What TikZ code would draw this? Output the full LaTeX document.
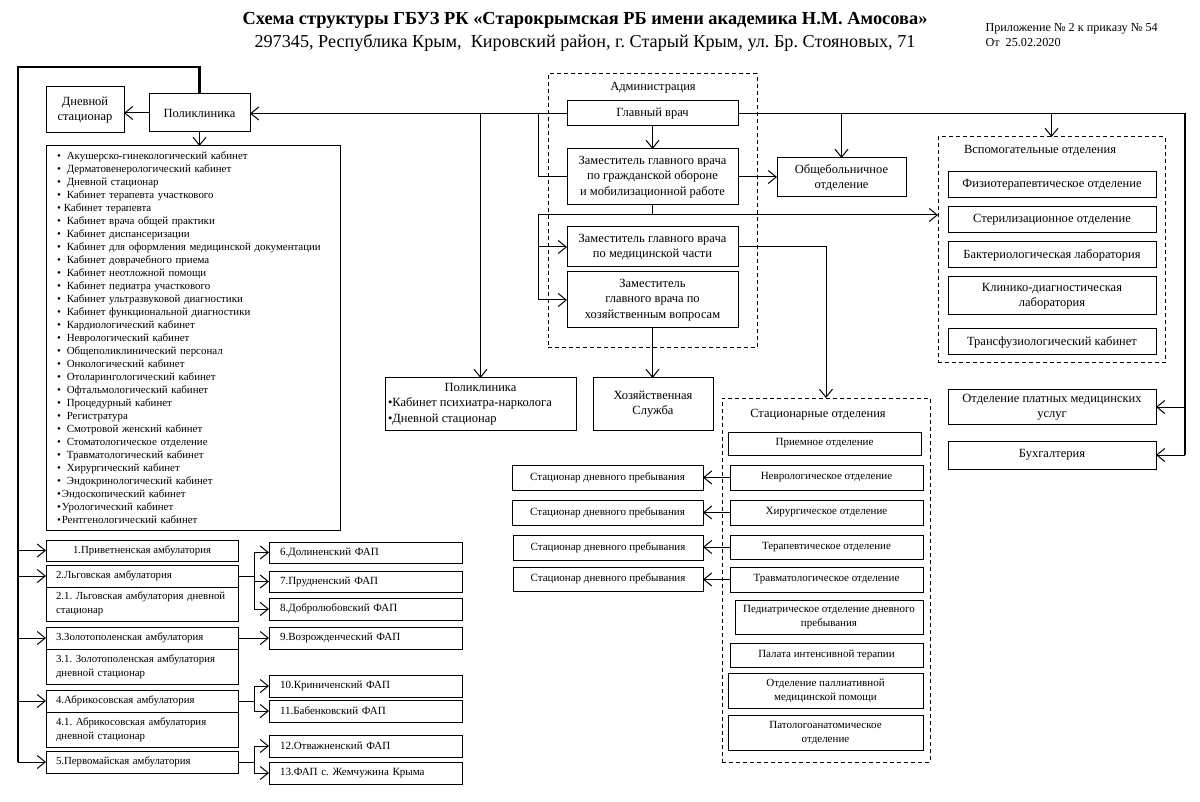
\documentclass[tikz,border=0pt]{standalone}
\usepackage{fontspec}
\setmainfont{Liberation Serif}
\usetikzlibrary{arrows.meta}
\newcommand\cabitem{\textbullet\hspace{6pt}}
\frenchspacing

\begin{document}
\begin{tikzpicture}[x=1pt, y=-1pt, line width=1pt,
    box/.style={draw, inner sep=1pt, outer sep=0pt, anchor=north west, align=center,
      font=\fontsize{12.5}{15.5}\selectfont},
    sbox/.style={box, font=\fontsize{11}{14}\selectfont},
    amb/.style={box, align=left, text width=172pt, inner xsep=10pt, font=\fontsize{10.8}{14}\selectfont},
    fap/.style={box, align=left, text width=171pt, inner xsep=11pt, font=\fontsize{11}{14}\selectfont},
    group/.style={draw, dash pattern=on 4pt off 3pt, anchor=north west, inner sep=0pt, outer sep=0pt},
    lbl/.style={font=\fontsize{12.5}{15.5}\selectfont},
    arr/.style={-{Straight Barb[length=8pt,width=13pt]}},
    trunk/.style={line width=2.5pt}]
	\useasboundingbox[fill=white] (0,0) rectangle (1200,802);
	\node[font=\fontsize{18.4}{20}\selectfont\bfseries] (title) at (585,20) {Схема структуры ГБУЗ РК «Старокрымская РБ имени академика Н.М. Амосова»};
	\node[font=\fontsize{18.2}{20}\selectfont] (addr) at (585,43) {297345, Республика Крым,\ \ Кировский район, г. Старый Крым, ул. Бр. Стояновых, 71};
	\node[anchor=north west, align=left, inner sep=0pt, font=\fontsize{12.2}{15}\selectfont] (order) at (985,23) {Приложение № 2 к приказу № 54\\От\ \ 25.02.2020};

	\node[box, minimum width=78pt, minimum height=46pt] (dayhosp) at (46,87) {Дневной\\стационар};
	\node[box, minimum width=101pt, minimum height=38pt] (poly) at (149,94) {Поликлиника};
	\node[box, minimum height=384pt, align=left, text width=272pt, inner xsep=11pt, font=\fontsize{10.9}{13}\selectfont] (cabs) at (46,146) {%
		\cabitem Акушерско-гинекологический кабинет\\
		\cabitem Дерматовенерологический кабинет\\
		\cabitem Дневной стационар\\
		\cabitem Кабинет терапевта участкового\\
		\textbullet\hspace{3pt}Кабинет терапевта\\
		\cabitem Кабинет врача общей практики\\
		\cabitem Кабинет диспансеризации\\
		\cabitem Кабинет для оформления медицинской документации\\
		\cabitem Кабинет доврачебного приема\\
		\cabitem Кабинет неотложной помощи\\
		\cabitem Кабинет педиатра участкового\\
		\cabitem Кабинет ультразвуковой диагностики\\
		\cabitem Кабинет функциональной диагностики\\
		\cabitem Кардиологический кабинет\\
		\cabitem Неврологический кабинет\\
		\cabitem Общеполиклинический персонал\\
		\cabitem Онкологический кабинет\\
		\cabitem Отоларингологический кабинет\\
		\cabitem Офтальмологический кабинет\\
		\cabitem Процедурный кабинет\\
		\cabitem Регистратура\\
		\cabitem Смотровой женский кабинет\\
		\cabitem Стоматологическое отделение\\
		\cabitem Травматологический кабинет\\
		\cabitem Хирургический кабинет\\
		\cabitem Эндокринологический кабинет\\
		\textbullet\hspace{1pt}Эндоскопический кабинет\\
		\textbullet\hspace{1pt}Урологический кабинет\\
		\textbullet\hspace{1pt}Рентгенологический кабинет};

	\node[group, minimum width=209pt, minimum height=274pt] (adm) at (548,74) {};
	\node[lbl] (admlbl) at (653,88) {Администрация};
	\node[box, minimum width=171pt, minimum height=25pt] (chief) at (567,101) {Главный врач};
	\node[box, minimum width=171pt, minimum height=56pt] (depgo) at (567,149) {Заместитель главного врача\\по гражданской обороне\\и мобилизационной работе};
	\node[box, minimum width=171pt, minimum height=40pt] (depmed) at (567,227) {Заместитель главного врача\\по медицинской части};
	\node[box, minimum width=171pt, minimum height=56pt] (dephoz) at (567,272) {Заместитель\\главного врача по\\хозяйственным вопросам};
	\node[box, minimum width=129pt, minimum height=39pt] (obsh) at (777,158) {Общебольничное\\отделение};
	\node[box, minimum width=191pt, minimum height=52pt] (poly2) at (385,378) {Поликлиника\\\makebox[185pt][l]{\textbullet Кабинет психиатра-нарколога}\\\makebox[185pt][l]{\textbullet Дневной стационар}};
	\node[box, minimum width=120pt, minimum height=52pt] (hoz) at (593,378) {Хозяйственная\\Служба};

	\node[group, minimum width=227pt, minimum height=226pt] (aux) at (938,137) {};
	\node[lbl] (auxlbl) at (1040,151) {Вспомогательные отделения};
	\node[box, minimum width=208pt, minimum height=26pt] (physio) at (948,172) {Физиотерапевтическое отделение};
	\node[box, minimum width=208pt, minimum height=26pt] (steril) at (948,207) {Стерилизационное отделение};
	\node[box, minimum width=208pt, minimum height=26pt] (bact) at (948,242) {Бактериологическая лаборатория};
	\node[box, minimum width=208pt, minimum height=38pt] (clin) at (948,277) {Клинико-диагностическая\\лаборатория};
	\node[box, minimum width=208pt, minimum height=26pt] (transf) at (948,329) {Трансфузиологический кабинет};
	\node[box, minimum width=208pt, minimum height=34pt] (paid) at (948,390) {Отделение платных медицинских\\услуг};
	\node[box, minimum width=208pt, minimum height=28pt] (acc) at (948,441) {Бухгалтерия};

	\node[group, minimum width=208pt, minimum height=364pt] (stat) at (722,398) {};
	\node[lbl] (statlbl) at (818,415) {Стационарные отделения};
	\node[sbox, minimum width=193pt, minimum height=23pt] (recep) at (728,432) {Приемное отделение};
	\node[sbox, minimum width=193pt, minimum height=25pt] (neuro) at (730,465) {Неврологическое отделение};
	\node[sbox, minimum width=193pt, minimum height=25pt] (surg) at (730,500) {Хирургическое отделение};
	\node[sbox, minimum width=193pt, minimum height=24pt] (ther) at (730,535) {Терапевтическое отделение};
	\node[sbox, minimum width=193pt, minimum height=25pt] (traum) at (730,567) {Травматологическое отделение};
	\node[sbox, minimum width=188pt, minimum height=34pt] (ped) at (735,600) {Педиатрическое отделение дневного\\пребывания};
	\node[sbox, minimum width=193pt, minimum height=24pt] (icu) at (730,643) {Палата интенсивной терапии};
	\node[sbox, minimum width=195pt, minimum height=35pt] (pall) at (728,673) {Отделение паллиативной\\медицинской помощи};
	\node[sbox, minimum width=195pt, minimum height=35pt] (path) at (728,715) {Патологоанатомическое\\отделение};

	\node[sbox, minimum width=191pt, minimum height=25pt] (day1) at (512,465) {Стационар дневного пребывания};
	\node[sbox, minimum width=191pt, minimum height=25pt] (day2) at (512,500) {Стационар дневного пребывания};
	\node[sbox, minimum width=190pt, minimum height=25pt] (day3) at (513,535) {Стационар дневного пребывания};
	\node[sbox, minimum width=190pt, minimum height=24pt] (day4) at (513,567) {Стационар дневного пребывания};

	\node[box, minimum width=192pt, minimum height=21pt, font=\fontsize{10.8}{14}\selectfont] (amb1) at (46,540) {1.Приветненская амбулатория};
	\node[amb, minimum height=22pt] (amb2) at (46,565) {2.Льговская амбулатория};
	\node[amb, minimum height=34pt] (amb2d) at (46,587) {2.1. Льговская амбулатория дневной\\стационар};
	\node[amb, minimum height=22pt] (amb3) at (46,627) {3.Золотополенская амбулатория};
	\node[amb, minimum height=35pt] (amb3d) at (46,649) {3.1. Золотополенская амбулатория\\дневной стационар};
	\node[amb, minimum height=22pt] (amb4) at (46,690) {4.Абрикосовская амбулатория};
	\node[amb, minimum height=35pt] (amb4d) at (46,712) {4.1. Абрикосовская амбулатория\\дневной стационар};
	\node[amb, minimum height=22pt] (amb5) at (46,751) {5.Первомайская амбулатория};

	\node[fap, minimum height=21pt] (fap6) at (269,542) {6.Долиненский ФАП};
	\node[fap, minimum height=21pt] (fap7) at (269,571) {7.Прудненский ФАП};
	\node[fap, minimum height=22pt] (fap8) at (269,598) {8.Добролюбовский ФАП};
	\node[fap, minimum height=22pt] (fap9) at (269,627) {9.Возрожденческий ФАП};
	\node[fap, minimum height=22pt] (fap10) at (269,675) {10.Криниченский ФАП};
	\node[fap, minimum height=22pt] (fap11) at (269,700) {11.Бабенковский ФАП};
	\node[fap, minimum height=22pt] (fap12) at (269,735) {12.Отважненский ФАП};
	\node[fap, minimum height=22pt] (fap13) at (269,762) {13.ФАП с. Жемчужина Крыма};

	\coordinate (lt) at (18,67);
	\coordinate (gl) at (538,215);
	\coordinate (rt) at (1185,0);
	\draw[arr] (poly.west) -- (poly.west -| dayhosp.east);
	\draw[arr] (poly.south) -- (cabs.north -| poly.south);
	\draw[trunk] (poly.north) |- (lt) -- (lt |- amb5.west);
	\foreach \a in {amb1,amb2,amb3,amb4,amb5}
		\draw[arr] (lt |- \a.west) -- (\a.west);
	\draw[arr] (chief.west) -- (chief.west -| poly.east);
	\draw[arr] (chief.west -| poly2.north) -- (poly2.north);
	\draw (chief.west -| gl) |- (depgo.west);
	\draw[arr] (chief.south) -- (depgo.north);
	\draw[arr] (depgo.east) -- (depgo.east -| obsh.west);
	\draw (chief.east) -- (chief.east -| rt);
	\draw[line width=2pt] (chief.east -| rt) -- (acc.east -| rt);
	\draw[arr] (chief.east -| obsh.north) -- (obsh.north);
	\draw[arr] (chief.east -| aux.north) -- (aux.north);
	\foreach \b in {paid,acc}
		\draw[arr] (\b.east -| rt) -- (\b.east);
	\draw (depgo.south) -- (depgo.south |- gl);
	\draw[arr] (gl) -- (gl -| aux.west);
	\draw (gl) -- (gl |- dephoz.west);
	\foreach \d in {depmed,dephoz}
		\draw[arr] (gl |- \d.west) -- (\d.west);
	\draw[arr] (depmed.east) -| (stat.north);
	\draw[arr] (dephoz.south) -- (dephoz.south |- hoz.north);
	\foreach \s/\t in {neuro/day1,surg/day2,ther/day3,traum/day4}
		\draw[arr] (\s.west) -- (\s.west -| \t.east);
	\draw (amb2.east) -- ++(16,0) coordinate (b2);
	\foreach \f in {fap6,fap7,fap8}
		\draw[arr] (b2) |- (\f.west);
	\draw[arr] (amb3.east) -- (fap9.west);
	\draw (amb4.east) -- ++(16,0) coordinate (b4);
	\foreach \f in {fap10,fap11}
		\draw[arr] (b4) |- (\f.west);
	\draw (amb5.east) -- ++(16,0) coordinate (b5);
	\foreach \f in {fap12,fap13}
		\draw[arr] (b5) |- (\f.west);
\end{tikzpicture}
\end{document}
